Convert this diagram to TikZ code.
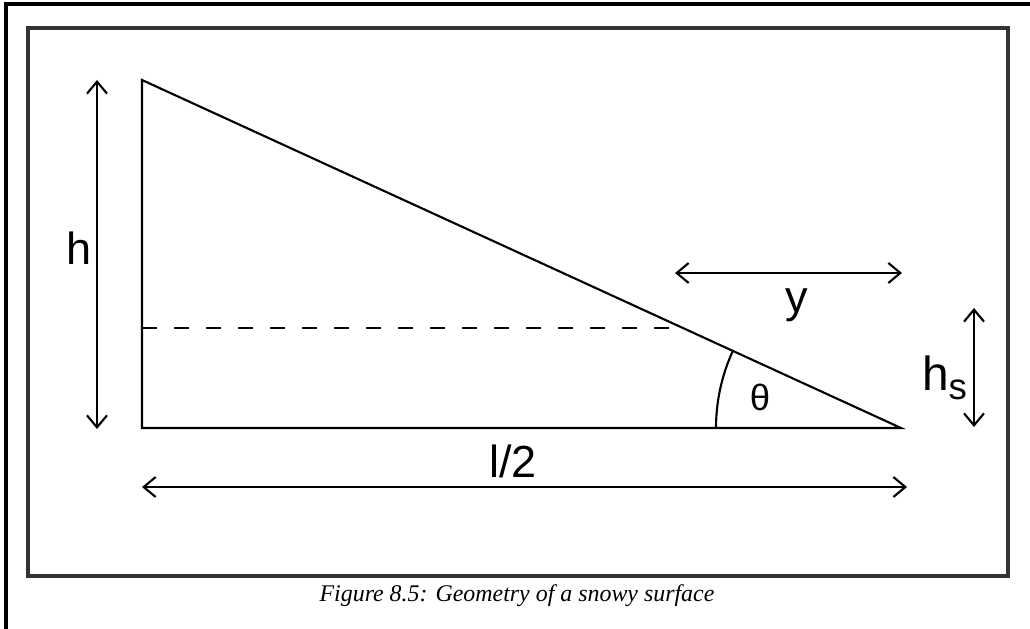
\documentclass[tikz,border=0pt]{standalone}
\usepackage{fontspec}
\setmainfont{Liberation Serif}
\setsansfont{Liberation Sans}
\usetikzlibrary{arrows.meta}

\begin{document}
\begin{tikzpicture}[x=0.025cm,y=-0.025cm,line width=1.5pt,>={Straight Barb[length=3mm,width=5mm]},
  lbl/.style={font=\sffamily\fontsize{32}{32}\selectfont,inner sep=0pt,anchor=base},
  dim/.style={<->}]
  \useasboundingbox (0,0) rectangle (1030,629);
  % marcos
  \draw[line width=2.2pt] (6,629) -- (6,4) -- (1030,4);
  \draw[line width=2.2pt,black!80] (28,28) rectangle (1008,576);
  % triangulo
  \coordinate (top) at (142,80);
  \coordinate (base) at (142,428);
  \coordinate (tip) at (901,428);
  \draw (top) -- (base) -- (tip) -- cycle;
  \coordinate (dl) at (142,328);
  \coordinate (dr) at (684,328);
  \draw[dash pattern=on 0.375cm off 0.425cm] (dl) -- (dr);
  \draw (tip) ++(180:185) arc[start angle=180,end angle=204.6,radius=185];
  % cotas
  \coordinate (ha) at (97,80);
  \coordinate (hb) at (97,429);
  \draw[dim] (ha) -- (hb);
  \coordinate (la) at (142,487);
  \coordinate (lb) at (907,487);
  \draw[dim] (la) -- (lb);
  \coordinate (ya) at (675,273);
  \coordinate (yb) at (902,273);
  \draw[dim] (ya) -- (yb);
  \coordinate (hsa) at (974,308);
  \coordinate (hsb) at (974,427);
  \draw[dim] (hsa) -- (hsb);
  % textos
  \node[lbl] (hlbl) at (79,265) {h};
  \node[lbl] (llbl) at (513,477) {l/2};
  \node[lbl] (ylbl) at (797,312) {y};
  \node[lbl,font=\sffamily\fontsize{26}{26}\selectfont] (thlbl) at (760,410) {θ};
  \node[lbl,anchor=base east,font=\sffamily\fontsize{34}{34}\selectfont] (hslbl) at (968,390) {h\raisebox{-7pt}{\fontsize{26}{26}\selectfont s}};
  \node[font=\itshape\fontsize{17}{17}\selectfont,anchor=base] (cap) at (517,601) {Figure 8.5: Geometry of a snowy surface};
\end{tikzpicture}
\end{document}
